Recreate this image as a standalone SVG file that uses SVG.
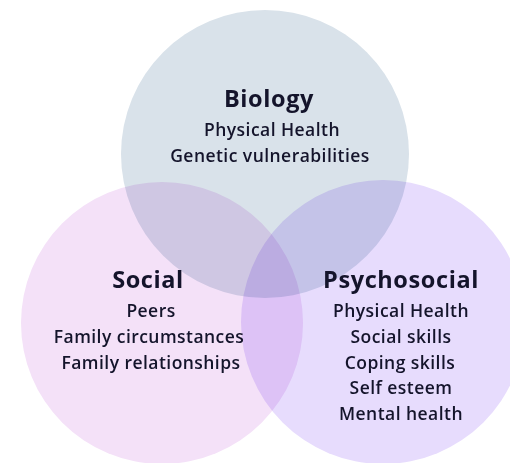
<svg xmlns="http://www.w3.org/2000/svg" width="510" height="463" viewBox="0 0 510 463">
<style>
.c{mix-blend-mode:multiply}
.t{font-family:"Open Sans","Noto Sans",sans-serif;fill:#14142b;text-anchor:middle}
.h{font-size:23.5px;font-weight:700;letter-spacing:0.6px}
.i{font-size:17.5px;font-weight:600;letter-spacing:0.45px}
</style>
<rect width="510" height="463" fill="#ffffff"/>
<g id="circles">
<circle id="biology-circle" class="c" cx="265" cy="154" r="144" fill="#d9e2ea"/>
<circle id="social-circle" class="c" cx="162" cy="323" r="141" fill="#f4e1f8"/>
<circle id="psychosocial-circle" class="c" cx="383" cy="322" r="142" fill="#e7dcfd"/>
</g>
<g id="biology" class="t">
<text class="h" x="269" y="107">Biology</text>
<text class="i" x="272" y="136">Physical Health</text>
<text class="i" x="270" y="162">Genetic vulnerabilities</text>
</g>
<g id="social" class="t">
<text class="h" x="148" y="288">Social</text>
<text class="i" x="151" y="317">Peers</text>
<text class="i" x="149" y="343">Family circumstances</text>
<text class="i" x="151" y="369">Family relationships</text>
</g>
<g id="psychosocial" class="t">
<text class="h" x="401" y="288">Psychosocial</text>
<text class="i" x="401" y="317">Physical Health</text>
<text class="i" x="401" y="343">Social skills</text>
<text class="i" x="400" y="369">Coping skills</text>
<text class="i" x="401" y="394">Self esteem</text>
<text class="i" x="401" y="420">Mental health</text>
</g>
<g id="connectors"/>
</svg>
